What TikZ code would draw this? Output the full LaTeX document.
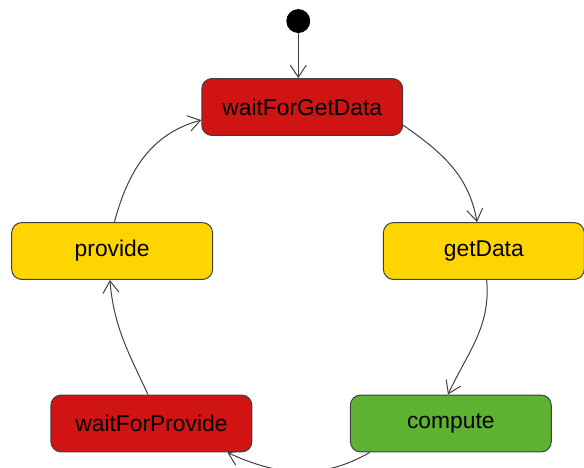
\documentclass[tikz,border=0pt]{standalone}
\usepackage{fontspec}
\setmainfont{Liberation Sans}
\usepackage{tikz}
\usetikzlibrary{arrows.meta,positioning}
\definecolor{statered}{HTML}{D01313}
\definecolor{stateyellow}{HTML}{FFD500}
\definecolor{stategreen}{HTML}{5DB232}

\begin{document}
\begin{tikzpicture}[
    font=\fontsize{11.4}{13.7}\selectfont,
    state/.style={draw=black!75, rounded corners=1.8mm, minimum width=35.3mm,
                  minimum height=10mm, align=center, inner sep=0pt, line width=0.5pt},
    startdot/.style={circle, fill=black, minimum size=4.2mm, inner sep=0pt},
    transition/.style={-{Straight Barb[length=6pt,width=8pt]}, line width=0.5pt, black!75}
]
\clip (0,0) rectangle (102.6mm,-82.1mm);

\node[startdot] (start) at (52.4mm,-3.7mm) {};
\node[state, fill=statered] (waitget) at (53.1mm,-18.8mm) {waitForGetData};
\node[state, fill=stateyellow] (provide) at (19.7mm,-44.1mm) {provide};
\node[state, fill=stateyellow] (getdata) at (85.0mm,-44.1mm) {getData};
\node[state, fill=statered] (waitprov) at (26.6mm,-74.4mm) {waitForProvide};
\node[state, fill=stategreen] (compute) at (79.2mm,-74.4mm) {compute};

\draw[transition] (start) -- (start |- waitget.north);
\draw[transition] ([yshift=-3.2mm]waitget.east) to[out=-35,in=100]
    ([xshift=-1.2mm]getdata.north);
\draw[transition] ([xshift=0.5mm]getdata.south) to[out=-85,in=65]
    ([xshift=-0.5mm]compute.north);
\draw[transition] ([xshift=3.5mm]compute.south west) to[out=-150,in=-25]
    ([xshift=-4.4mm]waitprov.south east);
\draw[transition] ([xshift=-0.6mm]waitprov.north) to[out=115,in=-85]
    ([xshift=-0.4mm]provide.south);
\draw[transition] ([xshift=0.4mm]provide.north) to[out=75,in=195]
    ([yshift=-2.3mm]waitget.west);
\end{tikzpicture}
\end{document}
